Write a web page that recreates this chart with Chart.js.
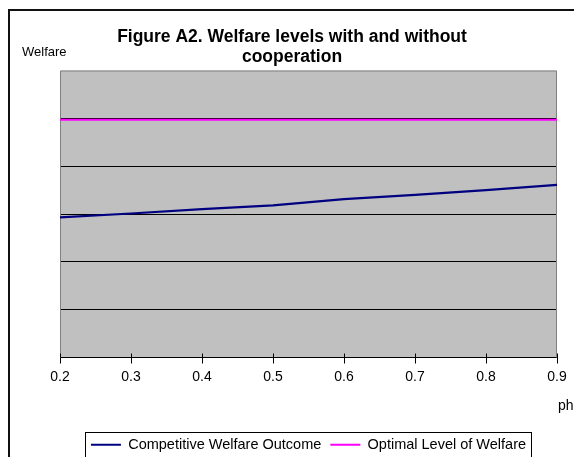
<!DOCTYPE html>
<html>
<head>
<meta charset="utf-8">
<script src="https://cdn.jsdelivr.net/npm/chart.js@4"></script>
<style>
    body { margin: 0; background: #fff; }
    #wrap { position: relative; width: 574px; height: 457px; overflow: hidden; }
    #frame { position: absolute; left: 8px; top: 9px; width: 600px; height: 500px; border: 2px solid #111; box-sizing: border-box; }
    canvas { position: absolute; left: 0; top: 0; }
    .lbl { position: absolute; font-family: Arial, "Liberation Sans", sans-serif; color: #000; white-space: nowrap; }
</style>
</head>
<body>
<div id="wrap">
    <div id="frame"></div>
    <canvas id="welfareChart" width="574" height="462"></canvas>
    <div class="lbl" style="left:22px; top:44px; font-size:13px;">Welfare</div>
    <div class="lbl" style="left:558px; top:397px; font-size:14px;">ph</div>
</div>
<script>
// Figure A2 - welfare levels by phi
const phiValues = [0.2, 0.3, 0.4, 0.5, 0.6, 0.7, 0.8, 0.9];
const competitiveWelfare = [2.93, 3.01, 3.10, 3.18, 3.31, 3.40, 3.50, 3.61];
const optimalWelfare = [4.97, 4.97, 4.97, 4.97, 4.97, 4.97, 4.97, 4.97];
const seriesNames = ['Competitive Welfare Outcome', 'Optimal Level of Welfare'];
const titleLines = ['Figure A2. Welfare levels with and without', 'cooperation'];

const FONT = 'Arial, "Liberation Sans", sans-serif';

// grey plot area + border, like the old Excel look
const plotArea = {
    id: 'plotArea',
    beforeDraw(chart) {
        const { ctx, chartArea: a } = chart;
        ctx.save();
        ctx.fillStyle = '#c0c0c0';
        ctx.fillRect(a.left, a.top, a.right - a.left, a.bottom - a.top);
        ctx.restore();
    },
    beforeDatasetsDraw(chart) {
        const { ctx, chartArea: a } = chart;
        ctx.save();
        ctx.strokeStyle = '#808080';
        ctx.lineWidth = 1;
        ctx.beginPath();
        ctx.moveTo(a.left + 0.5, a.bottom);
        ctx.lineTo(a.left + 0.5, a.top + 0.5);
        ctx.lineTo(a.right - 0.5, a.top + 0.5);
        ctx.lineTo(a.right - 0.5, a.bottom);
        ctx.stroke();
        // tick marks also poke a little into the plot
        const xs = chart.scales.x;
        ctx.strokeStyle = '#000';
        xs.ticks.forEach(t => {
            const px = Math.round(xs.getPixelForValue(t.value)) + 0.5;
            ctx.beginPath();
            ctx.moveTo(px, a.bottom - 4);
            ctx.lineTo(px, a.bottom);
            ctx.stroke();
        });
        ctx.restore();
    }
};

// box around the legend (runs off the bottom like the original)
const legendBox = {
    id: 'legendBox',
    afterDraw(chart) {
        const lg = chart.legend;
        if (!lg || !lg.legendHitBoxes.length) return;
        const first = lg.legendHitBoxes[0];
        const last = lg.legendHitBoxes[lg.legendHitBoxes.length - 1];
        const ctx = chart.ctx;
        ctx.save();
        ctx.strokeStyle = '#000';
        ctx.lineWidth = 1;
        const x0 = Math.round(first.left) - 5.5;
        const x1 = Math.round(last.left + last.width) + 5.5;
        const y0 = Math.round(first.top + first.height / 2) - 12.5;
        ctx.strokeRect(x0, y0, x1 - x0, 60);
        ctx.restore();
    }
};

new Chart(document.getElementById('welfareChart'), {
    type: 'line',
    data: {
        datasets: [
            {
                label: seriesNames[0],
                data: phiValues.map((x, i) => ({ x: x, y: competitiveWelfare[i] })),
                borderColor: '#000080',
                backgroundColor: '#000080',
                borderWidth: 2.2,
                pointRadius: 0,
                tension: 0
            },
            {
                label: seriesNames[1],
                data: phiValues.map((x, i) => ({ x: x, y: optimalWelfare[i] })),
                borderColor: '#ff00ff',
                backgroundColor: '#ff00ff',
                borderWidth: 2,
                pointRadius: 0,
                tension: 0
            }
        ]
    },
    options: {
        responsive: false,
        animation: false,
        layout: {
            padding: { left: 27, right: 17, top: 18, bottom: 0 }
        },
        plugins: {
            title: {
                display: true,
                text: titleLines,
                color: '#000',
                font: { family: FONT, size: 17.5, weight: 'bold', lineHeight: 1.1 },
                padding: { top: 10, bottom: 4 }
            },
            legend: {
                display: true,
                position: 'bottom',
                fullSize: false,
                labels: {
                    color: '#000',
                    font: { family: FONT, size: 14.5 },
                    boxWidth: 30,
                    boxHeight: 2,
                    padding: 9,
                    // thin line samples, no outline round the box
                    generateLabels: chart => Chart.defaults.plugins.legend.labels.generateLabels(chart)
                        .map(item => Object.assign(item, { lineWidth: 0 }))
                }
            },
            tooltip: { enabled: false }
        },
        scales: {
            x: {
                type: 'linear',
                min: 0.2,
                max: 0.9,
                afterFit: scale => { scale.height = 71; },
                ticks: {
                    stepSize: 0.1,
                    color: '#000',
                    font: { family: FONT, size: 14 },
                    padding: 5,
                    maxRotation: 0,
                    callback: v => v.toFixed(1)
                },
                grid: {
                    drawOnChartArea: false,
                    color: '#000',
                    tickLength: 6
                },
                border: { color: '#000', width: 1 }
            },
            y: {
                min: 0,
                max: 6,
                afterFit: scale => { scale.width = 33; },
                ticks: { stepSize: 1, display: false },
                grid: {
                    drawTicks: false,
                    color: ctx => (ctx.tick.value > 0 && ctx.tick.value < 6) ? '#000' : 'rgba(0,0,0,0)',
                    lineWidth: 1
                },
                border: { display: false }
            }
        }
    },
    plugins: [plotArea, legendBox]
});
</script>
</body>
</html>
